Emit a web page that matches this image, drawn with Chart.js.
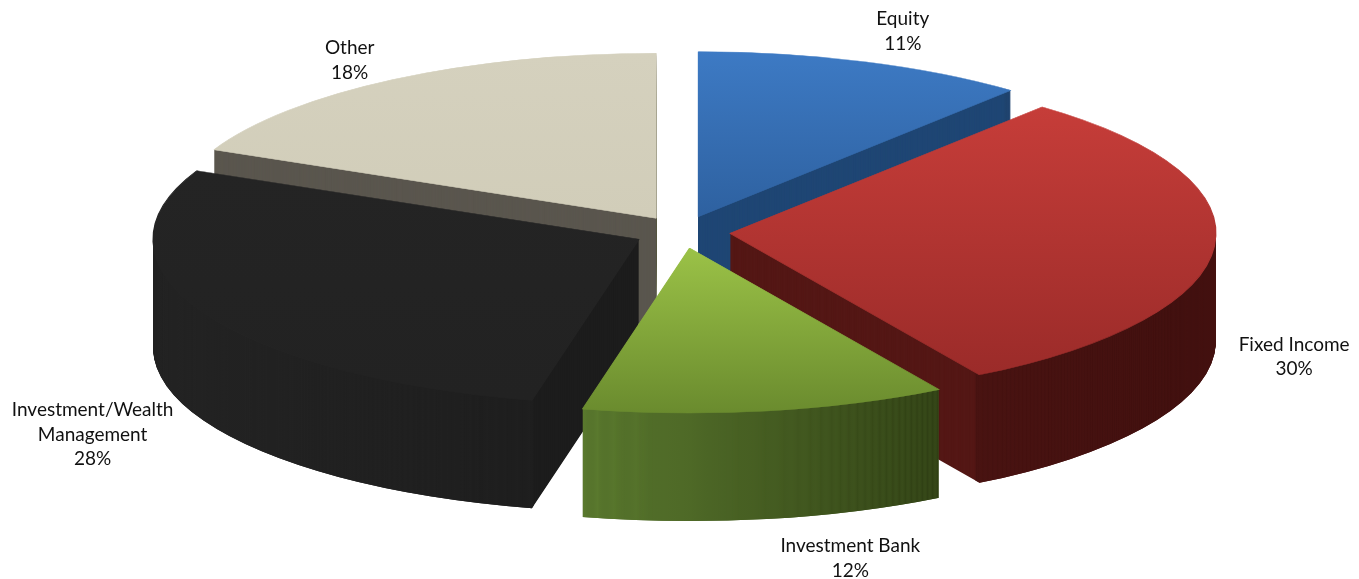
<!DOCTYPE html>
<html>
<head>
<meta charset="utf-8">
<title>Revenue by business</title>
<script src="https://cdn.jsdelivr.net/npm/chart.js@4.4.1/dist/chart.umd.min.js"></script>
<style>
  html, body { margin: 0; padding: 0; background: #fff; }
  #wrap { width: 1359px; height: 579px; position: relative; }
</style>
</head>
<body>
<div id="wrap"><canvas id="mycanvas"></canvas></div>
<script>
var segments = ['Equity', 'Fixed Income', 'Investment Bank', 'Investment/Wealth Management', 'Other'];
var labelLines = [['Equity'], ['Fixed Income'], ['Investment Bank'], ['Investment/Wealth', 'Management'], ['Other']];
var share = [11, 30, 12, 28, 18];

// colours per slice: top face (light -> dark), outer wall (left -> right), cut faces
var topLight = ['#3d7ac4', '#c63d39', '#9bc247', '#242424', '#d5d1be'];
var topDark = ['#2e61a0', '#9b2b29', '#6a8b2e', '#222222', '#d1cdb9'];
var wallLeft = ['#27507f', '#501614', '#5c7c2f', '#252525', '#5a564d'];
var wallRight = ['#1f426d', '#3c0e0d', '#2e3d13', '#1d1d1d', '#56524a'];
var cutFace = ['#1f4674', '#541715', '#4a6326', '#1c1c1c', '#5a564e'];

// tilted pie: centre, ellipse radii, thickness and explode distance in screen px
var view = { cx: 682, cy: 232, rx: 486, ry: 165, depth: 108, explode: 48 };

//######################## 3d pie drawing ########################//
var pie3d = {
  id: 'pie3d',
  beforeDatasetDraw: function(chart, args) {
    var ctx = chart.ctx;
    var arcs = chart.getDatasetMeta(args.index).data;
    if (!arcs.length) return false;
    var R = arcs[0].outerRadius, ox = arcs[0].x, oy = arcs[0].y;
    var sx = view.rx / R, sy = view.ry / R;
    var off = view.explode / sx;
    var band = 3 / sy;

    function paint(arc, fill, inner, edge) {
      var v = Object.create(arc);
      v.options = Object.assign({}, arc.options, {
        backgroundColor: fill,
        borderColor: fill,
        borderWidth: edge || 0,
        borderAlign: 'center',
        offset: 0,
        spacing: 0
      });
      if (inner !== undefined) v.innerRadius = inner;
      v.draw(ctx);
    }
    function at(d, arc, fn) {
      var half = (arc.startAngle + arc.endAngle) / 2;
      ctx.save();
      ctx.translate(view.cx, view.cy + d);
      ctx.scale(sx, sy);
      ctx.translate(-ox + Math.cos(half) * off, -oy + Math.sin(half) * off);
      fn();
      ctx.restore();
    }

    // gradients live in the arc's own frame
    var topFill = [], wallFill = [];
    arcs.forEach(function(arc, i) {
      var xs = [arc.x], ys = [arc.y];
      for (var k = 0; k <= 40; k++) {
        var a = arc.startAngle + (arc.endAngle - arc.startAngle) * k / 40;
        xs.push(arc.x + Math.cos(a) * R);
        ys.push(arc.y + Math.sin(a) * R);
      }
      var y0 = Math.min.apply(null, ys), y1 = Math.max.apply(null, ys);
      var x0 = Math.min.apply(null, xs), x1 = Math.max.apply(null, xs);
      var g = ctx.createLinearGradient(0, y0, 0, y1);
      g.addColorStop(0, topLight[i]);
      g.addColorStop(1, topDark[i]);
      topFill.push(g);
      var w = ctx.createLinearGradient(x0, 0, x1, 0);
      w.addColorStop(0, wallLeft[i]);
      w.addColorStop(1, wallRight[i]);
      wallFill.push(w);
    });

    // stack the side layers bottom-up, then the top faces
    for (var d = view.depth; d >= 1; d--) {
      arcs.forEach(function(arc, i) {
        at(d, arc, function() {
          paint(arc, cutFace[i]);
          paint(arc, wallFill[i], R - band);
        });
      });
    }
    arcs.forEach(function(arc, i) {
      at(0, arc, function() { paint(arc, topFill[i], undefined, 0.7); });
    });
    return false;
  }
};

//######################## outside labels ########################//
var pieLabels = {
  id: 'pieLabels',
  afterDraw: function(chart) {
    var ctx = chart.ctx;
    var arcs = chart.getDatasetMeta(0).data;
    var nudge = [[8, -2], [-8, 0], [70, 10], [-32, 1], [4, 6]];
    ctx.save();
    ctx.font = '19px Lato';
    ctx.fillStyle = '#111';
    ctx.textAlign = 'center';
    ctx.textBaseline = 'middle';
    arcs.forEach(function(arc, i) {
      var half = (arc.startAngle + arc.endAngle) / 2;
      var f = 1.28;
      var x = view.cx + view.rx * f * Math.cos(half) + nudge[i][0];
      var y = view.cy + view.ry * f * Math.sin(half) + (Math.sin(half) > -0.1 ? view.depth : 0) + nudge[i][1];
      var lines = labelLines[i].concat([share[i] + '%']);
      var lh = 24.5;
      var top = y - (lines.length - 1) * lh / 2;
      lines.forEach(function(t, k) { ctx.fillText(t, x, top + k * lh); });
    });
    ctx.restore();
  }
};

var ctx = document.getElementById('mycanvas');
var pieChart = new Chart(ctx, {
  type: 'pie',
  data: {
    labels: segments,
    datasets: [{
      data: share,
      backgroundColor: topLight,
      borderWidth: 0
    }]
  },
  options: {
    responsive: true,
    maintainAspectRatio: false,
    animation: false,
    events: [],
    layout: { padding: 0 },
    plugins: {
      legend: { display: false },
      tooltip: { enabled: false }
    }
  },
  plugins: [pie3d, pieLabels]
});
</script>
</body>
</html>
